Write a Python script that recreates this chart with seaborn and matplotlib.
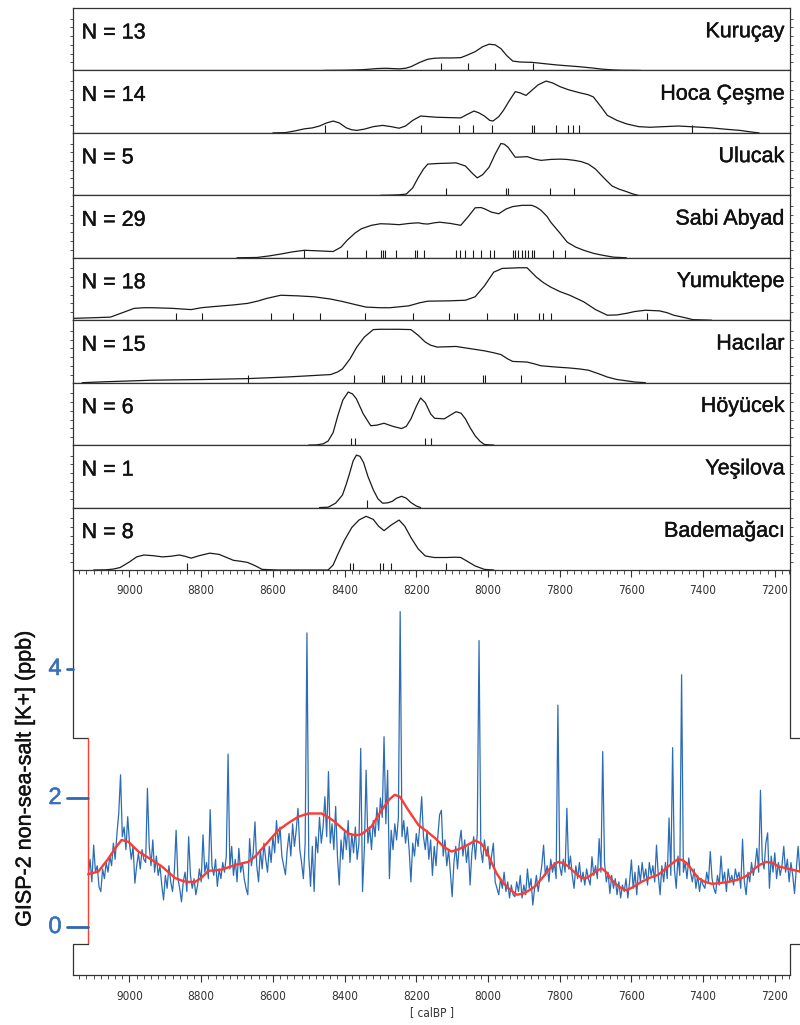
import numpy as np
import matplotlib
matplotlib.use("Agg")
import matplotlib.pyplot as plt
import matplotlib.patheffects as pe
import seaborn as sns
from matplotlib.lines import Line2D
from matplotlib.transforms import blended_transform_factory
from matplotlib import font_manager as fm

# ---------------- data ----------------
site_names = ["Kuruçay", "Hoca Çeşme", "Ulucak", "Sabi Abyad", "Yumuktepe",
              "Hacılar", "Höyücek", "Yeşilova", "Bademağacı"]
site_n = [13, 14, 5, 29, 18, 15, 6, 1, 8]

kurucay_years = [8459, 8400, 8350, 8310, 8287, 8265, 8248, 8230, 8215, 8190, 8168, 8150, 8129, 8100, 8076, 8060, 8036, 8015,
                 7997, 7980, 7964, 7948, 7931, 7910, 7878, 7845, 7812, 7780, 7746, 7710, 7680, 7650, 7627, 7574]
kurucay_dens = [0, 0.003, 0.012, 0.03, 0.035, 0.03, 0.025, 0.035, 0.06, 0.13, 0.18, 0.195, 0.2, 0.2, 0.205, 0.24, 0.3, 0.38,
                0.42, 0.41, 0.35, 0.24, 0.15, 0.135, 0.13, 0.11, 0.09, 0.075, 0.06, 0.04, 0.02, 0.008, 0.003, 0]
kurucay_dates = [8131, 8055, 7981, 7874]

hoca_years = [8600, 8564, 8540, 8512, 8490, 8470, 8450, 8432, 8415, 8395, 8380, 8366, 8345, 8320, 8294, 8270, 8248, 8230,
              8210, 8188, 8165, 8142, 8110, 8076, 8060, 8039, 8025, 8010, 7995, 7986, 7970, 7957, 7940, 7924, 7910, 7894,
              7878, 7860, 7838, 7820, 7799, 7775, 7746, 7720, 7706, 7685, 7667, 7640, 7614, 7580, 7548, 7510, 7469, 7420,
              7376, 7340, 7297, 7260, 7244]
hoca_dens = [0, 0.005, 0.03, 0.065, 0.08, 0.11, 0.16, 0.19, 0.16, 0.08, 0.05, 0.04, 0.06, 0.1, 0.12, 0.1, 0.075, 0.11,
             0.2, 0.27, 0.26, 0.25, 0.245, 0.24, 0.29, 0.35, 0.32, 0.27, 0.2, 0.19, 0.26, 0.36, 0.52, 0.66, 0.64, 0.6,
             0.68, 0.77, 0.83, 0.8, 0.74, 0.69, 0.645, 0.61, 0.575, 0.42, 0.28, 0.2, 0.145, 0.1, 0.09, 0.1, 0.11, 0.095,
             0.08, 0.06, 0.04, 0.01, 0]
hoca_dates = [8456, 8188, 8080, 8042, 7990, 7878, 7871, 7809, 7776, 7763, 7746, 7432]

ulucak_years = [8300, 8274, 8250, 8228, 8210, 8195, 8180, 8168, 8140, 8110, 8089, 8063, 8045, 8030, 8015, 7997, 7980, 7964,
                7955, 7944, 7924, 7905, 7891, 7870, 7852, 7825, 7799, 7780, 7759, 7740, 7720, 7700, 7687, 7670, 7654, 7635,
                7614, 7595, 7581]
ulucak_dens = [0, 0.003, 0.008, 0.02, 0.12, 0.28, 0.42, 0.5, 0.51, 0.515, 0.52, 0.47, 0.36, 0.28, 0.33, 0.45, 0.66, 0.83,
               0.82, 0.77, 0.61, 0.615, 0.62, 0.58, 0.56, 0.575, 0.58, 0.575, 0.56, 0.54, 0.5, 0.42, 0.34, 0.24, 0.15, 0.1,
               0.06, 0.02, 0]
ulucak_dates = [8116, 7949, 7943, 7826, 7759]

sabi_years = [8700, 8644, 8610, 8578, 8545, 8512, 8470, 8432, 8410, 8393, 8370, 8353, 8325, 8300, 8275, 8248, 8220, 8195,
              8180, 8168, 8150, 8135, 8105, 8076, 8055, 8036, 8020, 8010, 7990, 7970, 7950, 7931, 7905, 7878, 7865, 7852,
              7835, 7825, 7800, 7779, 7755, 7733, 7705, 7680, 7650, 7614]
sabi_dens = [0, 0.005, 0.03, 0.06, 0.095, 0.12, 0.11, 0.1, 0.17, 0.28, 0.4, 0.465, 0.52, 0.545, 0.54, 0.53, 0.55, 0.56,
             0.545, 0.54, 0.56, 0.57, 0.55, 0.52, 0.66, 0.8, 0.805, 0.785, 0.73, 0.705, 0.78, 0.82, 0.84, 0.84, 0.81, 0.76,
             0.66, 0.57, 0.4, 0.25, 0.17, 0.12, 0.07, 0.04, 0.01, 0]
sabi_dates = [8514, 8393, 8340, 8299, 8294, 8287, 8256, 8205, 8197, 8179, 8089, 8079, 8065, 8042, 8019, 7994, 7984, 7931,
              7924, 7915, 7906, 7898, 7889, 7878, 7871, 7819, 7786]

yumuk_years = [9158, 9100, 9053, 9020, 8987, 8960, 8934, 8880, 8828, 8800, 8762, 8710, 8670, 8640, 8617, 8578, 8530, 8485,
               8440, 8406, 8370, 8340, 8300, 8274, 8221, 8190, 8168, 8110, 8063, 8036, 8010, 7984, 7960, 7935, 7915, 7891,
               7865, 7845, 7825, 7800, 7772, 7733, 7700, 7667, 7640, 7614, 7590, 7561, 7522, 7500, 7482, 7450, 7429, 7376]
yumuk_dens = [0.03, 0.04, 0.05, 0.12, 0.19, 0.2, 0.2, 0.19, 0.17, 0.2, 0.22, 0.245, 0.27, 0.31, 0.35, 0.4, 0.39, 0.375,
              0.34, 0.3, 0.25, 0.21, 0.2, 0.2, 0.23, 0.28, 0.305, 0.31, 0.32, 0.375, 0.55, 0.77, 0.83, 0.835, 0.84, 0.84,
              0.69, 0.6, 0.53, 0.46, 0.4, 0.295, 0.17, 0.08, 0.085, 0.11, 0.14, 0.16, 0.15, 0.12, 0.08, 0.04, 0.01, 0]
yumuk_dates = [8871, 8799, 8604, 8545, 8468, 8343, 8208, 8108, 8003, 7928, 7920, 7857, 7846, 7825, 7557]

hacilar_years = [9132, 9066, 8934, 8800, 8670, 8564, 8500, 8439, 8420, 8406, 8385, 8366, 8345, 8320, 8300, 8250, 8215, 8195,
                 8175, 8160, 8142, 8115, 8089, 8050, 8010, 7985, 7964, 7945, 7931, 7910, 7891, 7870, 7852, 7810, 7772, 7745,
                 7720, 7690, 7667, 7640, 7614, 7590, 7561]
hacilar_dens = [0, 0.015, 0.04, 0.05, 0.065, 0.09, 0.11, 0.13, 0.17, 0.22, 0.38, 0.57, 0.73, 0.85, 0.855, 0.855, 0.85, 0.76,
                0.65, 0.6, 0.57, 0.575, 0.58, 0.545, 0.51, 0.48, 0.45, 0.38, 0.34, 0.335, 0.33, 0.3, 0.27, 0.25, 0.235, 0.22,
                0.2, 0.14, 0.09, 0.05, 0.03, 0.01, 0]
hacilar_dates = [8670, 8373, 8296, 8289, 8242, 8211, 8187, 8179, 8014, 8007, 7908, 7786]

hoyucek_years = [8500, 8479, 8460, 8446, 8432, 8419, 8405, 8390, 8378, 8367, 8348, 8327, 8310, 8290, 8265, 8241, 8228, 8215,
                 8200, 8188, 8175, 8160, 8149, 8122, 8105, 8089, 8075, 8063, 8050, 8036, 8022, 8010, 7984]
hoyucek_dens = [0, 0.003, 0.02, 0.065, 0.2, 0.47, 0.72, 0.85, 0.82, 0.74, 0.5, 0.31, 0.32, 0.35, 0.3, 0.265, 0.3, 0.42,
                0.62, 0.755, 0.68, 0.5, 0.43, 0.42, 0.48, 0.535, 0.51, 0.42, 0.28, 0.15, 0.06, 0.01, 0]
hoyucek_dates = [8381, 8372, 8176, 8158]

yesilova_years = [8470, 8446, 8425, 8406, 8395, 8386, 8376, 8367, 8357, 8347, 8335, 8320, 8307, 8294, 8280, 8267, 8255,
                  8241, 8228, 8215, 8200, 8188]
yesilova_dens = [0, 0.005, 0.07, 0.2, 0.38, 0.55, 0.75, 0.84, 0.82, 0.72, 0.5, 0.285, 0.14, 0.07, 0.075, 0.1, 0.15,
                 0.18, 0.15, 0.08, 0.025, 0]
yesilova_dates = [8338]

badem_years = [9100, 9066, 9045, 9026, 9000, 8980, 8960, 8935, 8908, 8885, 8861, 8845, 8828, 8805, 8776, 8750, 8710, 8690,
               8670, 8650, 8630, 8589, 8446, 8432, 8419, 8400, 8380, 8360, 8340, 8320, 8305, 8290, 8270, 8248, 8232, 8215,
               8195, 8175, 8150, 8116, 8090, 8076, 8055, 8036, 8010, 7984]
badem_dens = [0, 0.003, 0.015, 0.04, 0.13, 0.21, 0.24, 0.23, 0.21, 0.22, 0.24, 0.22, 0.19, 0.23, 0.27, 0.25, 0.155, 0.14,
              0.12, 0.07, 0.01, 0, 0, 0.08, 0.25, 0.48, 0.68, 0.8, 0.86, 0.81, 0.7, 0.63, 0.72, 0.8, 0.7, 0.52,
              0.34, 0.225, 0.2, 0.2, 0.205, 0.2, 0.13, 0.065, 0.01, 0]
badem_dates = [8839, 8386, 8377, 8300, 8294, 8271, 8116]

site_curves = [
    (kurucay_years, kurucay_dens, kurucay_dates),
    (hoca_years, hoca_dens, hoca_dates),
    (ulucak_years, ulucak_dens, ulucak_dates),
    (sabi_years, sabi_dens, sabi_dates),
    (yumuk_years, yumuk_dens, yumuk_dates),
    (hacilar_years, hacilar_dens, hacilar_dates),
    (hoyucek_years, hoyucek_dens, hoyucek_dates),
    (yesilova_years, yesilova_dens, yesilova_dates),
    (badem_years, badem_dens, badem_dates),
]

# GISP-2 non-sea-salt K+ (ppb), 5-year steps from 9115 to 7125 calBP
gisp_years = np.arange(9115, 7120, -5)
gisp_k = [
    0.80, 1.05, 0.70, 1.27, 0.85, 0.95, 0.62, 0.55, 0.90, 0.75, 1.00, 0.85, 1.10, 0.95, 1.30, 1.05, 1.45, 1.76, 2.36, 1.40,
    1.55, 1.20, 1.71, 1.30, 1.05, 1.25, 0.68, 0.95, 1.15, 0.90, 1.20, 1.05, 1.00, 2.15, 1.25, 0.95, 1.35, 0.85, 1.10, 0.80,
    0.95, 0.65, 0.42, 0.80, 0.60, 0.95, 0.70, 0.55, 0.85, 1.50, 0.75, 0.60, 0.39, 0.70, 0.85, 0.55, 1.40, 0.80, 0.60, 0.75,
    0.50, 0.65, 0.90, 0.70, 1.43, 0.85, 1.00, 0.75, 1.82, 0.95, 0.80, 1.05, 0.63, 0.90, 0.75, 1.00, 0.85, 1.10, 2.68, 0.90,
    1.25, 0.80, 1.05, 0.70, 1.22, 0.85, 1.00, 0.75, 0.60, 0.50, 1.37, 0.95, 1.15, 1.63, 0.95, 0.70, 1.20, 0.90, 1.30, 1.05,
    0.85, 1.25, 1.00, 1.40, 1.15, 1.65, 1.30, 1.55, 1.10, 0.95, 0.81, 1.20, 1.45, 1.10, 1.60, 1.25, 1.50, 1.84, 1.20, 1.00,
    0.75, 1.30, 4.56, 1.10, 0.63, 1.25, 0.55, 1.40, 1.15, 1.70, 1.30, 1.55, 2.02, 1.40, 2.41, 1.30, 1.60, 1.20, 1.87, 1.10,
    0.65, 1.35, 1.05, 1.50, 1.20, 1.65, 1.00, 1.45, 1.15, 1.55, 1.05, 1.30, 2.77, 0.55, 1.20, 2.43, 1.30, 1.55, 1.20, 1.65,
    1.40, 1.85, 1.50, 2.00, 1.70, 2.95, 1.60, 2.43, 0.75, 1.50, 1.20, 1.60, 1.35, 1.70, 4.89, 1.40, 1.65, 1.30, 1.55, 1.20,
    0.70, 1.30, 1.10, 1.45, 1.25, 1.60, 2.02, 1.40, 1.20, 1.50, 1.05, 1.35, 0.80, 1.25, 0.95, 1.40, 1.74, 1.81, 1.10, 1.35,
    0.95, 1.20, 0.85, 0.47, 1.00, 1.25, 0.90, 1.30, 1.50, 1.10, 1.35, 1.00, 1.25, 0.65, 1.15, 1.40, 1.05, 1.45, 4.44, 1.20,
    1.00, 1.35, 1.10, 1.25, 0.90, 1.10, 1.30, 0.70, 0.60, 0.50, 0.75, 0.60, 0.85, 0.55, 0.70, 0.45, 0.65, 0.50, 0.47, 0.70,
    0.55, 0.80, 0.45, 0.65, 0.50, 0.90, 0.60, 0.75, 0.34, 0.60, 0.80, 0.55, 0.75, 0.95, 1.27, 0.80, 0.95, 0.70, 1.05, 0.85,
    1.00, 0.75, 3.44, 0.95, 0.80, 1.05, 0.85, 1.84, 0.90, 1.10, 0.80, 0.60, 0.95, 0.75, 1.00, 0.70, 0.85, 0.65, 0.90, 0.75,
    0.65, 1.09, 0.80, 0.95, 0.75, 1.37, 0.85, 2.72, 1.00, 0.70, 0.85, 0.52, 0.80, 0.60, 0.75, 0.50, 0.70, 0.45, 0.65, 0.55,
    0.75, 0.45, 0.70, 1.04, 0.60, 0.85, 0.50, 0.95, 0.70, 1.00, 0.75, 0.90, 0.65, 1.00, 0.80, 0.95, 0.70, 1.27, 0.80, 0.50,
    0.95, 0.70, 1.00, 0.75, 1.69, 0.80, 2.78, 0.90, 0.60, 1.10, 0.80, 3.91, 0.85, 1.00, 0.75, 1.07, 0.85, 0.70, 0.90, 0.60,
    0.80, 0.55, 0.75, 0.65, 0.60, 0.85, 0.70, 1.17, 0.75, 0.60, 0.52, 0.80, 0.65, 1.10, 0.70, 0.85, 0.55, 0.90, 0.70, 0.80,
    0.65, 0.90, 0.75, 0.85, 0.60, 1.36, 0.70, 0.50, 0.85, 0.70, 1.00, 0.80, 0.95, 1.22, 0.85, 2.12, 1.05, 0.90, 1.30, 1.46,
    0.60, 1.10, 0.85, 1.15, 0.75, 1.00, 0.80, 0.95, 1.25, 0.85, 1.05, 0.70, 1.00, 0.80, 0.52, 0.90, 1.25, 0.85, 1.05,
]

smooth_years = [9115, 9100, 9087, 9059, 9040, 9022, 9003, 8975, 8938, 8910, 8873, 8850, 8836, 8817, 8800, 8780, 8760, 8743,
                8706, 8669, 8650, 8620, 8585, 8555, 8529, 8501, 8464, 8445, 8427, 8405, 8390, 8370, 8352, 8325, 8297, 8275,
                8260, 8246, 8222, 8194, 8170, 8148, 8125, 8102, 8085, 8064, 8036, 8020, 8009, 7990, 7976, 7960, 7943, 7920,
                7900, 7885, 7869, 7850, 7832, 7815, 7804, 7790, 7776, 7755, 7739, 7725, 7711, 7697, 7683, 7670, 7655, 7640,
                7625, 7613, 7595, 7572, 7550, 7525, 7497, 7471, 7458, 7446, 7430, 7414, 7395, 7376, 7355, 7330, 7305, 7283,
                7268, 7256, 7240, 7223, 7205, 7190, 7160, 7130]
smooth_k = [0.82, 0.84, 0.86, 1.06, 1.22, 1.35, 1.32, 1.17, 1.04, 0.94, 0.76, 0.71, 0.70, 0.70, 0.76, 0.87, 0.88, 0.89,
            0.96, 1.01, 1.09, 1.28, 1.50, 1.62, 1.71, 1.76, 1.76, 1.70, 1.63, 1.52, 1.45, 1.42, 1.44, 1.56, 1.81, 1.98,
            2.05, 2.02, 1.81, 1.58, 1.48, 1.38, 1.25, 1.17, 1.20, 1.25, 1.34, 1.30, 1.22, 1.00, 0.83, 0.70, 0.60, 0.50,
            0.52, 0.57, 0.63, 0.75, 0.88, 0.97, 1.01, 0.99, 0.94, 0.83, 0.76, 0.76, 0.81, 0.87, 0.91, 0.85, 0.73, 0.65,
            0.59, 0.57, 0.62, 0.70, 0.76, 0.81, 0.94, 1.05, 1.04, 0.99, 0.88, 0.76, 0.70, 0.67, 0.68, 0.70, 0.73, 0.78,
            0.84, 0.91, 0.97, 1.01, 0.99, 0.94, 0.90, 0.86]

xtick_values = [9000, 8800, 8600, 8400, 8200, 8000, 7800, 7600, 7400, 7200]
xtick_labels = ["9000", "8800", "8600", "8400", "8200", "8000", "7800", "7600", "7400", "7200"]
ytick_values = [0, 2, 4]
ytick_labels = ["0", "2", "4"]

# ---------------- style ----------------
sns.set_theme(style="ticks")
plt.rcParams["font.family"] = ["Liberation Sans", "DejaVu Sans"]
plt.rcParams["lines.solid_joinstyle"] = "round"
names = {f.name for f in fm.fontManager.ttflist}
if "Liberation Sans Narrow" in names:
    cond_font = dict(fontfamily="Liberation Sans Narrow", fontsize=10)
else:
    cond_font = dict(fontfamily="DejaVu Sans", fontstretch="condensed", fontsize=8.5)

heavy = [pe.withStroke(linewidth=0.3, foreground="#111111")]

FW, FH = 800, 1025
fig = plt.figure(figsize=(FW / 100, FH / 100), dpi=100)
fig.patch.set_facecolor("white")

def fx(px):
    return px / FW

def fy(py):
    return 1 - py / FH

XL, XR = 73, 790
XMIN, XMAX = 9157.6, 7157.6
frame_col = "#333333"
PT, PB = 8, 570
ph = (PB - PT) / 9

for i, (yrs, dens, dates) in enumerate(site_curves):
    top = PT + i * ph
    ax = fig.add_axes([fx(XL), fy(top + ph), (XR - XL) / FW, ph / FH])
    sns.lineplot(x=yrs, y=dens, ax=ax, color="#1a1a1a", linewidth=0.9, errorbar=None)
    sns.rugplot(x=dates, ax=ax, height=0.12, color="#1a1a1a", linewidth=0.8)
    ax.set_xlim(XMIN, XMAX)
    ax.set_ylim(0, 1)
    ax.set_xlabel("")
    ax.set_ylabel("")
    for s in ax.spines.values():
        s.set_visible(True)
        s.set_color(frame_col)
        s.set_linewidth(0.9)
    ax.set_yticks([0.13, 0.27, 0.41, 0.55, 0.69, 0.83])
    ax.tick_params(axis="y", left=True, right=True, length=2.5, width=0.6,
                   colors=frame_col, labelleft=False)
    if i < 8:
        ax.tick_params(axis="x", bottom=False, labelbottom=False)
    else:
        ax.set_xticks(xtick_values)
        ax.set_xticklabels(xtick_labels, color="#333333", **cond_font)
        ax.xaxis.set_minor_locator(matplotlib.ticker.MultipleLocator(20))
        ax.tick_params(axis="x", which="major", length=5, width=0.8, pad=5, colors=frame_col)
        ax.tick_params(axis="x", which="minor", length=3, width=0.6, colors=frame_col)
        for lbl in ax.get_xticklabels():
            lbl.set_color("#333333")
    ax.text(0.012, 0.6, f"N = {site_n[i]}", transform=ax.transAxes, ha="left", va="center",
            fontsize=15.5, color="#111111", path_effects=heavy)
    ax.text(0.992, 0.62, site_names[i], transform=ax.transAxes, ha="right", va="center",
            fontsize=15.5, color="#111111", path_effects=heavy)

# ---------------- bottom GISP-2 panel ----------------
axb = fig.add_axes([fx(XL), fy(975), (XR - XL) / FW, (975 - PB) / FH])
axb.set_facecolor("none")
sns.lineplot(x=gisp_years, y=gisp_k, ax=axb, color="#2b6cb6", linewidth=0.9,
             errorbar=None, clip_on=False)
sns.lineplot(x=smooth_years, y=smooth_k, ax=axb, color="#ff3a2f", linewidth=1.7,
             errorbar=None, clip_on=False)
axb.set_xlim(XMIN, XMAX)
axb.set_ylim(-0.744, 5.535)
axb.set_xlabel("")
axb.set_ylabel("")
for k in ["left", "right", "top"]:
    axb.spines[k].set_visible(False)
axb.spines["bottom"].set_color(frame_col)
axb.spines["bottom"].set_linewidth(0.9)
axb.set_yticks([])
axb.set_xticks(xtick_values)
axb.set_xticklabels(xtick_labels, color="#333333", **cond_font)
axb.xaxis.set_minor_locator(matplotlib.ticker.MultipleLocator(20))
axb.tick_params(axis="x", which="major", length=5, width=0.8, pad=6, colors=frame_col)
axb.tick_params(axis="x", which="minor", length=3, width=0.6, colors=frame_col)
for lbl in axb.get_xticklabels():
    lbl.set_color("#333333")

fig.text(fx((XL + XR) / 2), fy(1013), "[ calBP ]", ha="center", va="center",
         color="#333333", **cond_font)

# step frame of the ice-core panel
def poly(pts, color, lw=0.9):
    xs = [fx(p[0]) for p in pts]
    ys = [fy(p[1]) for p in pts]
    fig.add_artist(Line2D(xs, ys, color=color, linewidth=lw, transform=fig.transFigure))

poly([(73, 570), (73, 738), (88, 738)], frame_col)
poly([(88, 738), (88, 944)], "#ff3a2f", 1.0)
poly([(88, 944), (73, 944), (73, 975)], frame_col)
poly([(790, 570), (790, 738), (800, 738)], frame_col)
poly([(800, 944), (790, 944), (790, 975)], frame_col)

# blue y ticks and labels
tr = blended_transform_factory(fig.transFigure, axb.transData)
for v, lab in zip(ytick_values, ytick_labels):
    x_end = 73 if v > 2.9 else 88
    fig.add_artist(Line2D([fx(67), fx(x_end)], [v, v], color="#2f67b0", linewidth=2.0,
                          transform=tr))
    fig.text(fx(55), v, lab, transform=tr, ha="center", va="center",
             fontsize=17, color="#3a70b9",
             path_effects=[pe.withStroke(linewidth=0.4, foreground="#3a70b9")])

fig.text(fx(25), fy(779), "GISP-2 non-sea-salt [K+] (ppb)", rotation=90,
         ha="center", va="center", fontsize=15.5, color="#111111", path_effects=heavy)

fig.savefig("out.png", dpi=100)
